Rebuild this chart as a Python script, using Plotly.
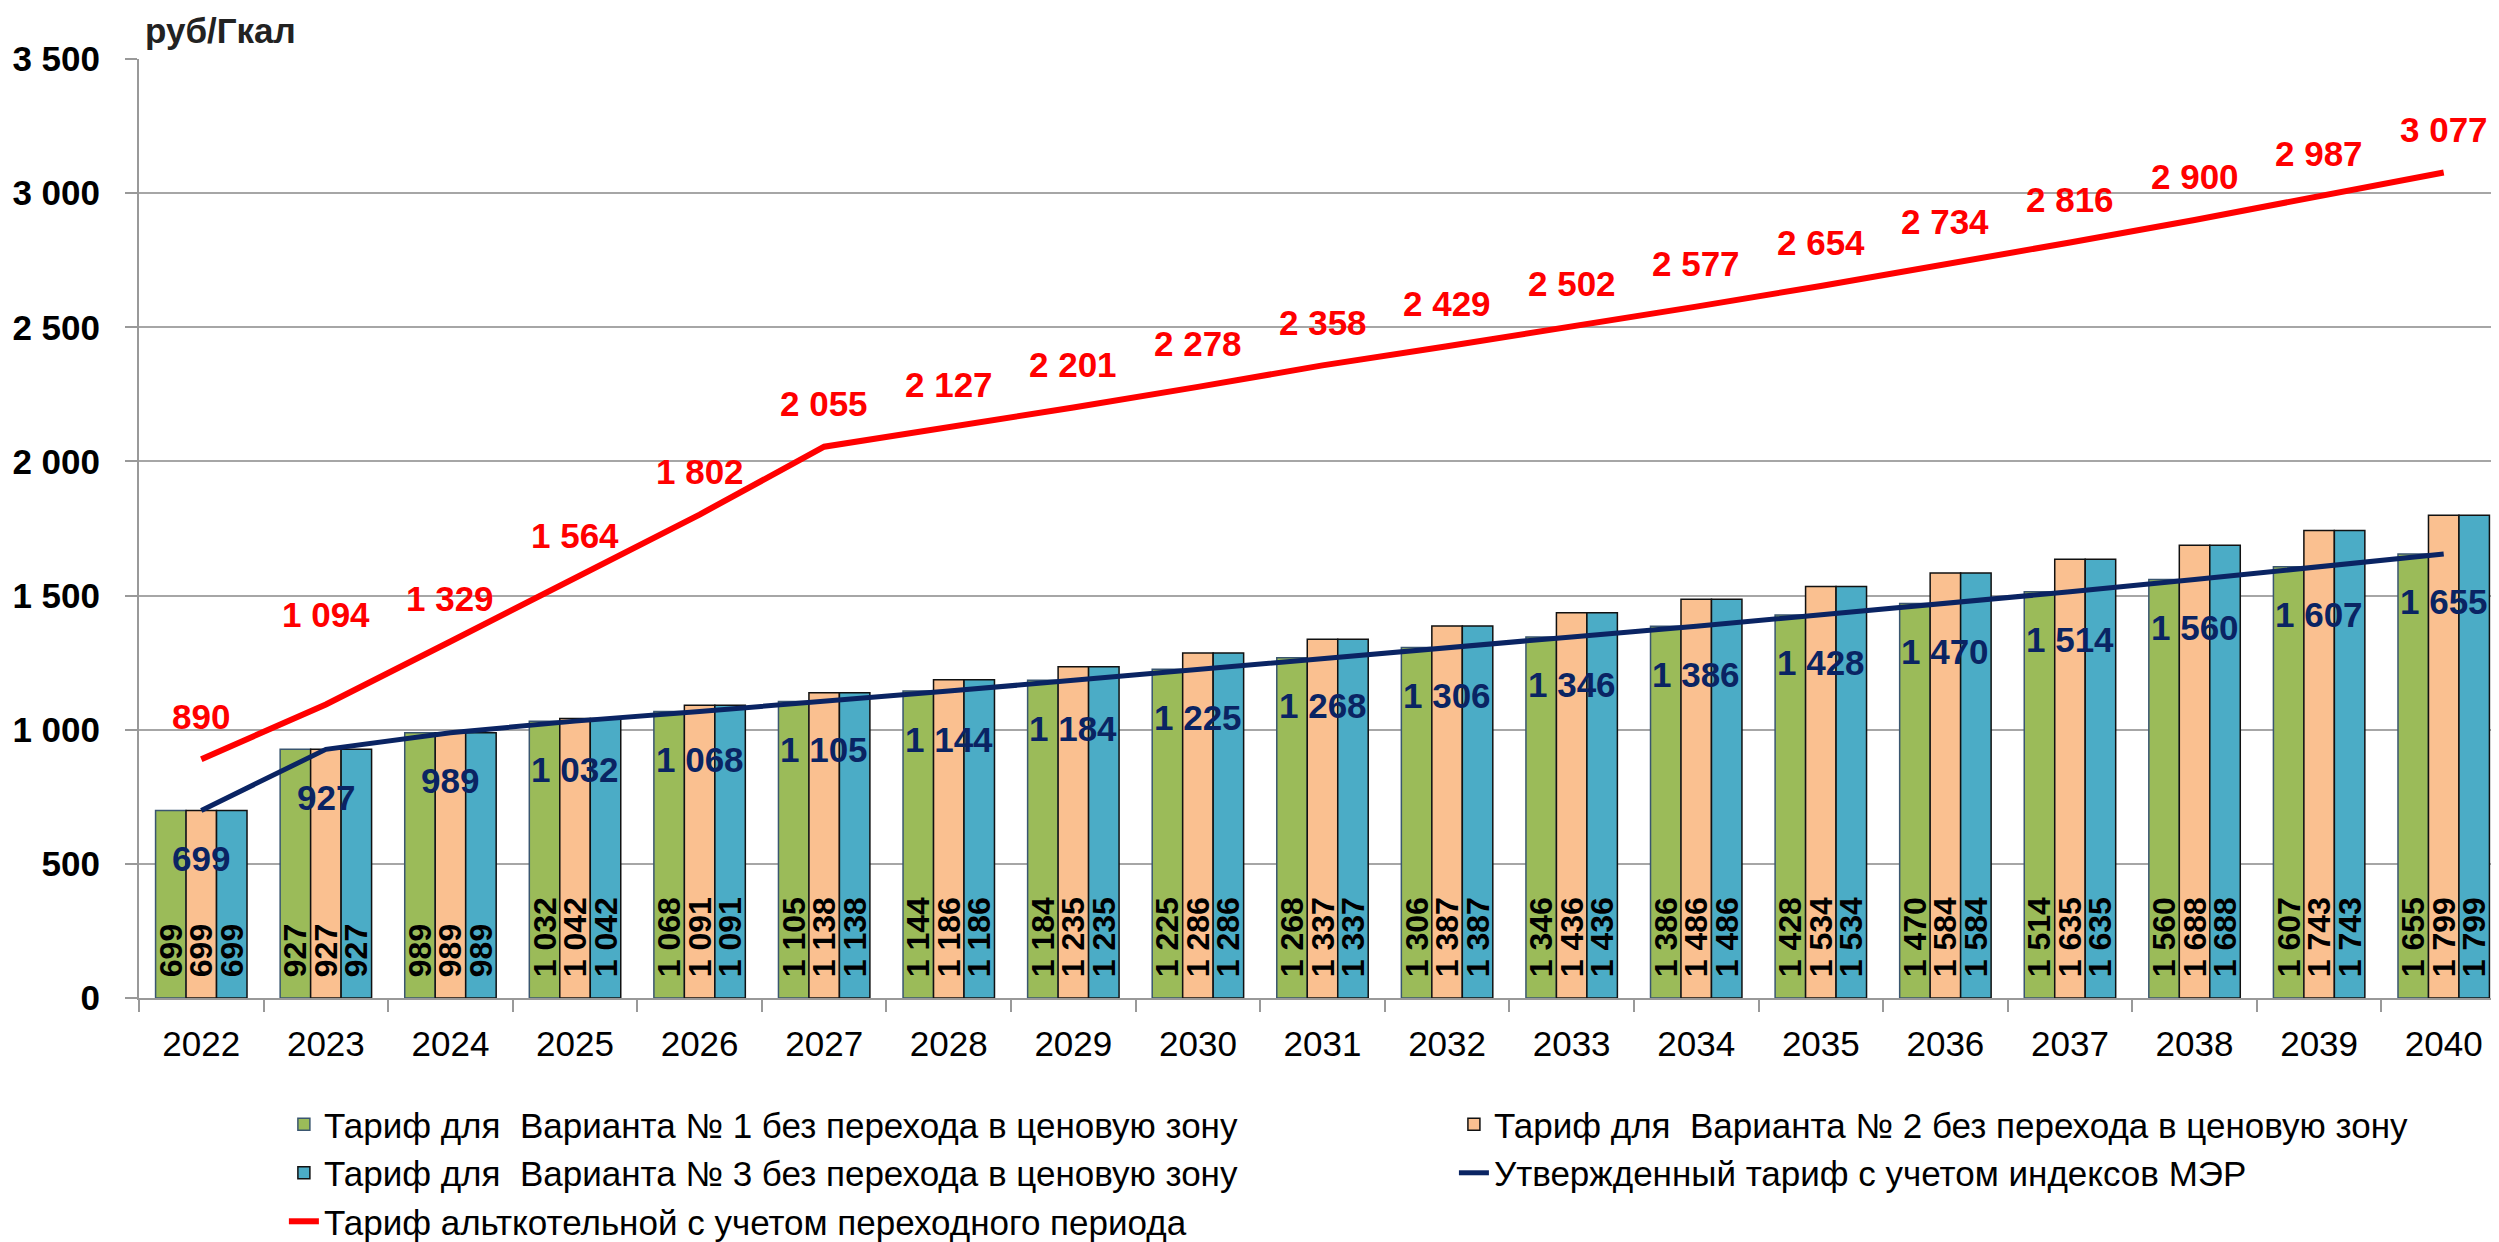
import plotly.graph_objects as go

# ---- data ----
years = [str(y) for y in range(2022, 2041)]
var1 = [699, 927, 989, 1032, 1068, 1105, 1144, 1184, 1225, 1268, 1306, 1346, 1386, 1428, 1470, 1514, 1560, 1607, 1655]
var2 = [699, 927, 989, 1042, 1091, 1138, 1186, 1235, 1286, 1337, 1387, 1436, 1486, 1534, 1584, 1635, 1688, 1743, 1799]
var3 = [699, 927, 989, 1042, 1091, 1138, 1186, 1235, 1286, 1337, 1387, 1436, 1486, 1534, 1584, 1635, 1688, 1743, 1799]
approved = [699, 927, 989, 1032, 1068, 1105, 1144, 1184, 1225, 1268, 1306, 1346, 1386, 1428, 1470, 1514, 1560, 1607, 1655]
alt_boiler = [890, 1094, 1329, 1564, 1802, 2055, 2127, 2201, 2278, 2358, 2429, 2502, 2577, 2654, 2734, 2816, 2900, 2987, 3077]
y_ticks = [0, 500, 1000, 1500, 2000, 2500, 3000, 3500]

names = [
    "Тариф для  Варианта № 1 без перехода в ценовую зону",
    "Тариф для  Варианта № 2 без перехода в ценовую зону",
    "Тариф для  Варианта № 3 без перехода в ценовую зону",
    "Утвержденный тариф с учетом индексов МЭР",
    "Тариф альткотельной с учетом переходного периода",
]

FONT = "Liberation Sans, Arial, sans-serif"
NAVY = "#0A2463"
RED = "#FF0000"


def fmt(v):
    return f"{v:,}".replace(",", "\u00a0")


fig = go.Figure()

bar_specs = [
    (var1, "#9BBB59", "#3A5670", names[0], "legend", 1),
    (var2, "#FAC090", "#111111", names[1], "legend2", 1),
    (var3, "#4BACC6", "#111111", names[2], "legend", 2),
]
for vals, col, line_col, nm, lg, rank in bar_specs:
    fig.add_trace(go.Bar(
        x=years, y=vals, name=nm, legend=lg, legendrank=rank,
        marker=dict(color=col, line=dict(color=line_col, width=1.5)),
        text=["\u00a0\u00a0" + fmt(v) for v in vals],
        textposition="inside", insidetextanchor="start", textangle=-90,
        constraintext="none",
        textfont=dict(family=FONT, size=32, color="black", weight="bold"),
        hoverinfo="skip",
    ))

fig.add_trace(go.Scatter(
    x=years, y=approved, name=names[3], mode="lines", legend="legend2", legendrank=2,
    line=dict(color=NAVY, width=5),
    hoverinfo="skip",
))
fig.add_trace(go.Scatter(
    x=years, y=alt_boiler, name=names[4], mode="lines", legend="legend", legendrank=3,
    line=dict(color=RED, width=6),
    hoverinfo="skip",
))

annotations = []
for i, v in enumerate(approved):
    annotations.append(dict(x=i, y=v, xref="x", yref="y", text=fmt(v), showarrow=False,
                            yshift=-48, font=dict(family=FONT, size=35, color=NAVY, weight="bold")))
for i, v in enumerate(alt_boiler):
    shift = 90 if i == 1 else 43
    annotations.append(dict(x=i, y=v, xref="x", yref="y", text=fmt(v), showarrow=False,
                            yshift=shift, font=dict(family=FONT, size=35, color=RED, weight="bold")))
annotations.append(dict(x=0, y=1, xref="paper", yref="paper", xanchor="left", yanchor="bottom",
                        xshift=4, yshift=7, text="руб/Гкал", showarrow=False,
                        font=dict(family=FONT, size=35, color="#222222", weight="bold")))

legend_common = dict(orientation="v", xref="container", yref="container",
                     xanchor="left", yanchor="top", y=0.1191,
                     font=dict(family=FONT, size=35, color="black"),
                     traceorder="normal", bgcolor="rgba(0,0,0,0)", borderwidth=0)

# the page body adds an 8px offset; the plot area runs slightly past the right edge as in the source
fig.update_layout(
    width=2499, height=1234,
    margin=dict(l=131, r=1, t=51, b=244, autoexpand=False),
    plot_bgcolor="white", paper_bgcolor="white",
    barmode="group", bargap=0.266, bargroupgap=0,
    separators=", ",
    font=dict(family=FONT, size=35, color="black"),
    showlegend=True,
    legend=dict(x=0.1104, **legend_common),
    legend2=dict(x=0.5786, **legend_common),
    annotations=annotations,
)
fig.update_xaxes(type="category", tickson="boundaries", ticks="outside", ticklen=12,
                 tickcolor="#999999", tickwidth=2, showline=True, linecolor="#999999", linewidth=2,
                 tickfont=dict(family=FONT, size=35, color="black"), ticklabelstandoff=14,
                 tickangle=0, range=[-0.5, len(years) - 0.5],
                 showgrid=False, fixedrange=True)
fig.update_yaxes(range=[0, 3500], tickvals=y_ticks, tickformat=",", ticks="outside", ticklen=12,
                 tickcolor="#999999", tickwidth=2, showline=True, linecolor="#999999", linewidth=2,
                 showgrid=True, gridcolor="#A6A6A6", gridwidth=2, zeroline=False,
                 tickfont=dict(family=FONT, size=35, color="black", weight="bold"), ticklabelstandoff=18,
                 fixedrange=True)

fig.write_html("out.html")
